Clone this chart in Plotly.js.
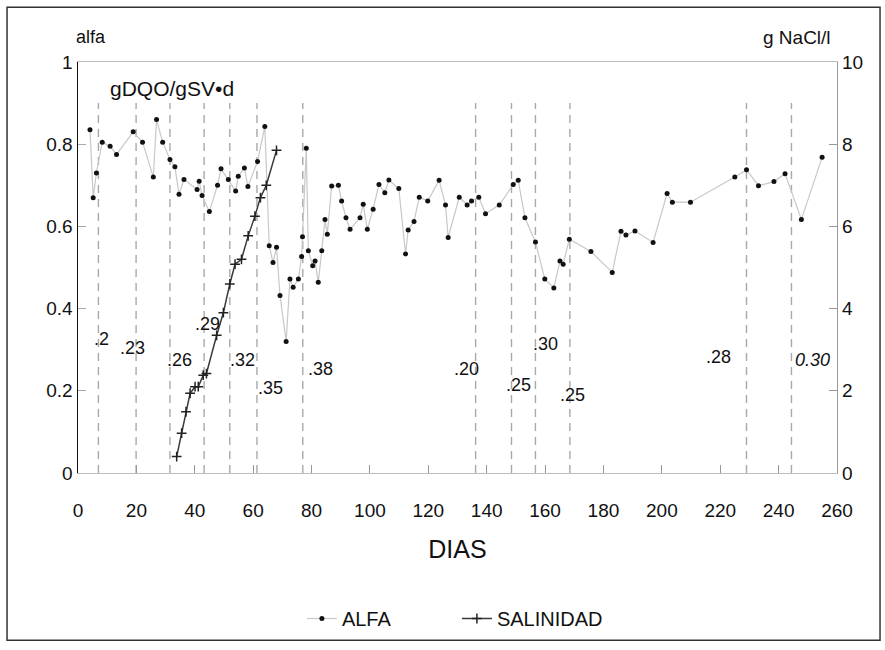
<!DOCTYPE html>
<html>
<head>
<meta charset="utf-8">
<script src="https://cdn.plot.ly/plotly-3.0.1.min.js"></script>
<style>
  html, body { margin: 0; padding: 0; background: #fff; }
  #chart { width: 885px; height: 650px; }
</style>
</head>
<body>
<div id="chart"></div>
<script>
// alfa (left axis) against operating day
const alfaDays = [4.1, 5.2, 6.3, 8.3, 11, 13.2, 18.9, 22.1, 25.8, 26.9, 29, 31.5, 33.2, 34.6, 36.3,
  40.8, 41.5, 42.5, 45, 47.8, 49, 51.5, 54, 54.9, 57, 58.2, 61.5, 64, 65.5, 66.8, 68, 69.2, 71.3,
  72.6, 73.7, 75.5, 76.6, 76.9, 78.2, 78.9, 80.4, 81.2, 82.3, 83.5, 84.6, 85.4, 86.9, 89.2, 90.3,
  91.8, 93.2, 96.6, 97.7, 99.1, 101.1, 103.1, 105.1, 106.5, 109.9, 112.2, 113.1, 115.1, 116.9,
  119.8, 123.7, 125.9, 126.8, 130.6, 133.3, 134.8, 137.3, 139.6, 144.3, 149.1, 150.8, 153.1,
  156.7, 159.9, 163, 165.1, 166.2, 168.3, 175.7, 183, 186, 187.7, 190.8, 197, 201.8, 203.6,
  209.8, 225, 229, 233.1, 238.4, 242.2, 247.8, 254.9];
const alfaValues = [0.835, 0.67, 0.73, 0.805, 0.795, 0.775, 0.83, 0.805, 0.72, 0.86, 0.805, 0.763,
  0.745, 0.678, 0.714, 0.69, 0.71, 0.675, 0.636, 0.70, 0.74, 0.714, 0.686, 0.722, 0.742, 0.697,
  0.758, 0.843, 0.553, 0.512, 0.549, 0.432, 0.32, 0.472, 0.452, 0.472, 0.527, 0.575, 0.79, 0.541,
  0.504, 0.516, 0.464, 0.541, 0.617, 0.581, 0.698, 0.70, 0.662, 0.621, 0.593, 0.621, 0.654, 0.593,
  0.642, 0.702, 0.682, 0.713, 0.692, 0.533, 0.591, 0.612, 0.671, 0.662, 0.712, 0.652, 0.573,
  0.671, 0.652, 0.662, 0.671, 0.631, 0.652, 0.702, 0.712, 0.621, 0.562, 0.472, 0.45, 0.516,
  0.508, 0.569, 0.539, 0.488, 0.588, 0.579, 0.589, 0.561, 0.68, 0.659, 0.659, 0.72, 0.738,
  0.699, 0.709, 0.728, 0.617, 0.768];

// salinity (right axis, g NaCl/l)
const salDays = [33.8, 35.5, 37, 38.4, 40.1, 41.2, 42.9, 44, 47.5, 49.8, 52, 53.8, 56, 58.3, 60.6,
  62.5, 64.5, 68];
const salValues = [0.4, 0.97, 1.49, 1.94, 2.1, 2.1, 2.38, 2.42, 3.35, 3.9, 4.6, 5.08, 5.2, 5.77,
  6.25, 6.7, 7.0, 7.85];

// organic loading changes (gDQO/gSV·d)
const loadDays = [7, 19.9, 31.5, 43.2, 52, 61.3, 77, 136.2, 148.5, 156.7, 168.5, 229, 244.4];
const loadLabels = ['.2', '.23', '.26', '.29', '.32', '.35', '.38', '.20', '.25', '.30', '.25', '.28', '0.30'];

// where each loading label sits (day, alfa units)
const labelAt = [[8.2, 0.327], [18.5, 0.305], [34.9, 0.274], [44.2, 0.363], [56.2, 0.274],
  [66.1, 0.206], [82.9, 0.254], [133, 0.254], [151, 0.215], [160.3, 0.315], [169.3, 0.189],
  [219.3, 0.283], [251.7, 0.274]];

const FONT = 'Liberation Sans, Arial, sans-serif';

const lineX = [], lineY = [];
loadDays.forEach(d => { lineX.push(d, d, null); lineY.push(0, 0.9, null); });

const traces = [
  {
    x: lineX, y: lineY, type: 'scatter', mode: 'lines', showlegend: false, hoverinfo: 'skip',
    line: { color: '#a8a8a8', width: 1.4, dash: '8px,6px' }
  },
  {
    x: alfaDays, y: alfaValues, type: 'scatter', mode: 'lines+markers', name: 'ALFA',
    line: { color: '#c8c8c8', width: 1.2 },
    marker: { color: '#111', size: 5, symbol: 'circle' }
  },
  {
    x: salDays, y: salValues, type: 'scatter', mode: 'lines+markers', name: 'SALINIDAD',
    yaxis: 'y2',
    line: { color: '#3a3a3a', width: 1.5 },
    marker: { color: '#222', size: 7, symbol: 'cross-thin', line: { color: '#222', width: 1.5 } }
  }
];

const annotations = loadLabels.map((t, i) => ({
  x: labelAt[i][0], y: labelAt[i][1], xref: 'x', yref: 'y', text: t, showarrow: false,
  font: { family: FONT, size: 18, color: '#111', style: t === '0.30' ? 'italic' : 'normal' }
}));

annotations.push(
  { xref: 'paper', yref: 'paper', x: -0.005, y: 1.06, xanchor: 'left', yanchor: 'middle',
    text: 'alfa', showarrow: false, font: { family: FONT, size: 18, color: '#111' } },
  { xref: 'paper', yref: 'paper', x: 0.04, y: 0.935, xanchor: 'left', yanchor: 'middle',
    text: 'gDQO/gSV\u2022d', showarrow: false, font: { family: FONT, size: 21, color: '#111' } },
  { xref: 'paper', yref: 'paper', x: 0.995, y: 1.06, xanchor: 'right', yanchor: 'middle',
    text: 'g NaCl/l', showarrow: false, font: { family: FONT, size: 19, color: '#111' } }
);

const layout = {
  width: 885, height: 650,
  margin: { l: 78, r: 48, t: 62, b: 175 },
  paper_bgcolor: '#fff', plot_bgcolor: '#fff',
  font: { family: FONT, size: 19, color: '#111' },
  showlegend: true,
  legend: {
    orientation: 'h', x: 0.295, xanchor: 'left', y: -0.354, yanchor: 'middle',
    entrywidth: 110, entrywidthmode: 'pixels',
    font: { family: FONT, size: 20, color: '#111' }, bgcolor: 'rgba(0,0,0,0)'
  },
  xaxis: {
    range: [0, 260], tickvals: [0, 20, 40, 60, 80, 100, 120, 140, 160, 180, 200, 220, 240, 260],
    showgrid: false, zeroline: false, showline: true, linecolor: '#bdbdbd', linewidth: 1.2, mirror: true,
    ticks: 'inside', ticklen: 8, tickcolor: '#999', ticklabelstandoff: 20,
    title: { text: 'DIAS', font: { family: FONT, size: 25, color: '#111' }, standoff: 20 }
  },
  yaxis: {
    range: [0, 1], tickvals: [0, 0.2, 0.4, 0.6, 0.8, 1], ticktext: ['0', '0.2', '0.4', '0.6', '0.8', '1'],
    showgrid: false, zeroline: false, showline: true, linecolor: '#111', linewidth: 1.5,
    ticks: 'inside', ticklen: 8, tickcolor: '#aaa'
  },
  yaxis2: {
    range: [0, 10], tickvals: [0, 2, 4, 6, 8, 10], overlaying: 'y', side: 'right',
    showgrid: false, zeroline: false, showline: true, linecolor: '#999', linewidth: 1.2,
    ticks: 'inside', ticklen: 8, tickcolor: '#999'
  },
  annotations: annotations,
  shapes: [
    { type: 'rect', xref: 'paper', yref: 'paper', x0: -0.0935, x1: 1.0567, y0: -0.4068, y1: 1.1332,
      line: { color: '#333', width: 1.5 }, fillcolor: 'rgba(0,0,0,0)', layer: 'below' }
  ]
};

Plotly.newPlot('chart', traces, layout, { displayModeBar: false, staticPlot: true });
</script>
</body>
</html>
